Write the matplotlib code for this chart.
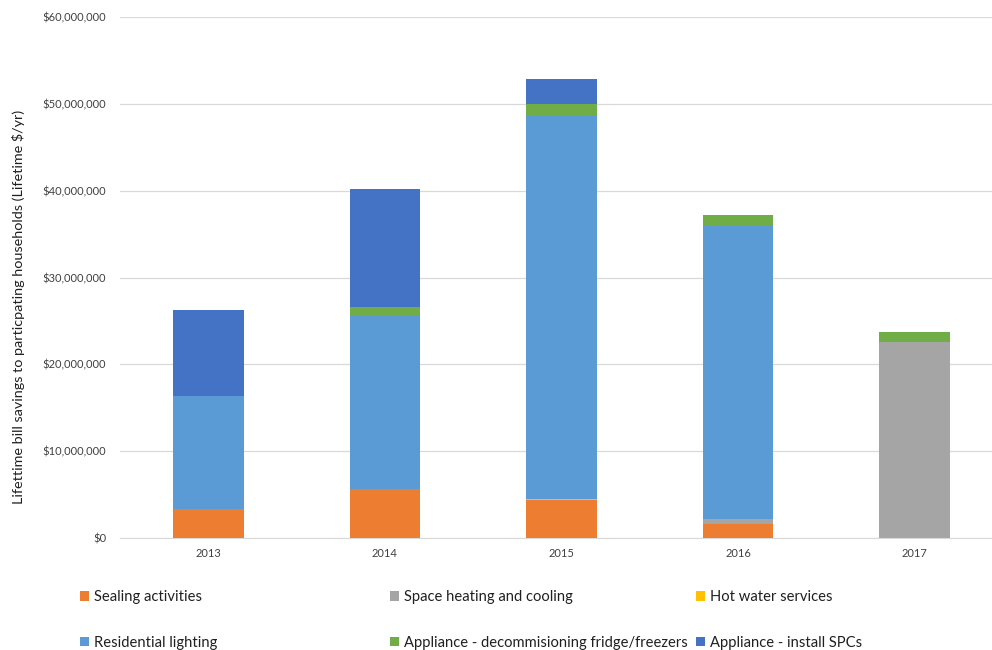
import numpy as np
import matplotlib
matplotlib.use("Agg")
import matplotlib.pyplot as plt
from matplotlib.patches import Patch
from matplotlib.ticker import FuncFormatter

plt.rcParams["font.family"] = ["Lato", "DejaVu Sans"]

years = ["2013", "2014", "2015", "2016", "2017"]

# lifetime bill savings by activity ($)
sealing = [3_300_000, 5_670_000, 4_370_000, 1_620_000, 0]
space_heating = [0, 0, 0, 530_000, 22_580_000]
hot_water = [0, 0, 150_000, 0, 0]
lighting = [13_100_000, 20_000_000, 44_140_000, 33_810_000, 0]
decommission = [0, 880_000, 1_300_000, 1_270_000, 1_110_000]
install_spc = [9_900_000, 13_600_000, 2_880_000, 0, 0]

series = [
    ("Sealing activities", sealing, "#ED7D31"),
    ("Space heating and cooling", space_heating, "#A5A5A5"),
    ("Hot water services", hot_water, "#FFC000"),
    ("Residential lighting", lighting, "#5B9BD5"),
    ("Appliance - decommisioning fridge/freezers", decommission, "#70AD47"),
    ("Appliance - install SPCs", install_spc, "#4472C4"),
]

fig = plt.figure(figsize=(9.92, 6.5), dpi=100)
ax = fig.add_axes([120 / 992, 1 - 538 / 650, 883 / 992, 521 / 650])

x = np.arange(len(years))
bottom = np.zeros(len(years))
handles = []
for label, vals, color in series:
    vals = np.array(vals, dtype=float)
    ax.bar(x, vals, 0.40, bottom=bottom, color=color, zorder=3)
    bottom += vals
    handles.append(Patch(facecolor=color, label=label))

ax.set_xlim(-0.5, len(years) - 0.5)
ax.set_ylim(0, 60_000_000)
ax.set_yticks(np.arange(0, 60_000_001, 10_000_000))
ax.yaxis.set_major_formatter(FuncFormatter(lambda v, p: f"${v:,.0f}"))
ax.set_xticks(x)
ax.set_xticklabels(years)
ax.tick_params(axis="both", length=0, labelsize=8, colors="#404040")
ax.tick_params(axis="y", pad=10)
ax.tick_params(axis="x", pad=7)
ax.grid(axis="y", color="#D9D9D9", lw=0.9, zorder=0)
for s in ["top", "right", "left"]:
    ax.spines[s].set_visible(False)
ax.spines["bottom"].set_color("#D9D9D9")

fig.text(19 / 992, 1 - 307 / 650,
         "Lifettime bill savings to particpating households (Lifetime $/yr)",
         rotation=90, ha="center", va="center", fontsize=10.4, color="#202020")

# legend: three columns, two rows
col_x = [73 / 992, 383 / 992, 689 / 992]
for i, cx in enumerate(col_x):
    leg = fig.legend(handles=[handles[i], handles[i + 3]], loc="upper left",
                     bbox_to_anchor=(cx, 1 - 583 / 650), frameon=False,
                     fontsize=10.6, handlelength=0.6, handleheight=0.6,
                     handletextpad=0.3, labelspacing=2.15, borderpad=0,
                     labelcolor="#202020")

fig.savefig("out.png", dpi=100)
